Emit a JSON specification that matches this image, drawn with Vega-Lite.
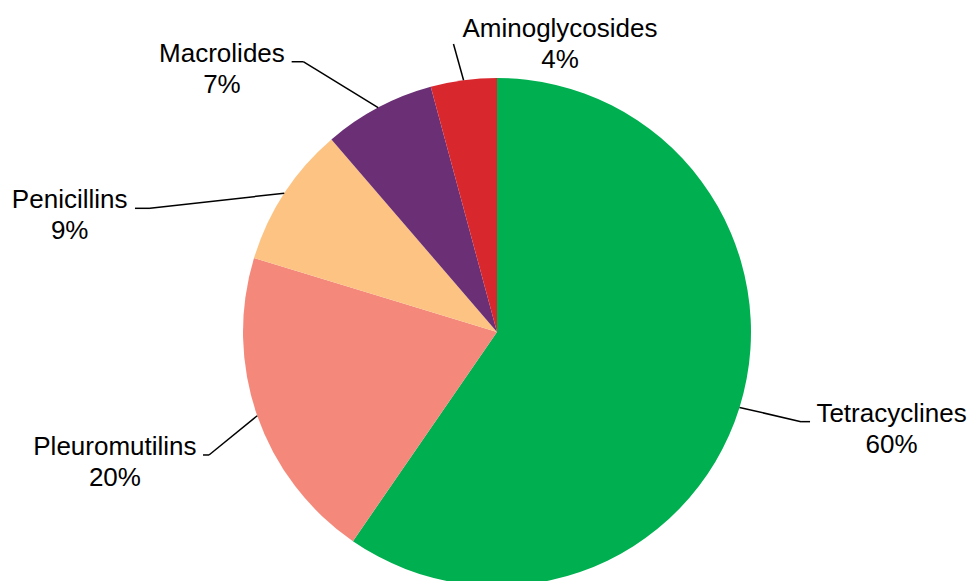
{
  "$schema": "https://vega.github.io/schema/vega-lite/v6.json",
  "width": 971,
  "height": 581,
  "autosize": "none",
  "padding": 0,
  "background": "white",
  "config": {"view": {"stroke": null}},
  "data": {
    "values": [
      {"category": "Tetracyclines", "value": 59.6},
      {"category": "Pleuromutilins", "value": 20.1},
      {"category": "Penicillins", "value": 9.0},
      {"category": "Macrolides", "value": 7.1},
      {"category": "Aminoglycosides", "value": 4.2}
    ]
  },
  "transform": [
    {"joinaggregate": [{"op": "sum", "field": "value", "as": "total"}]},
    {"stack": "value", "groupby": [], "sort": [{"field": "category", "order": "descending"}], "as": ["v0", "v1"]},
    {"calculate": "PI*(datum.v0+datum.v1)/datum.total", "as": "a"},
    {"calculate": "254*sin(datum.a)", "as": "px"},
    {"calculate": "-254*cos(datum.a)", "as": "py"},
    {"calculate": "datum.px + (datum.category=='Tetracyclines'?61.5:datum.category=='Pleuromutilins'?-48.2:datum.category=='Penicillins'?-134.3:datum.category=='Macrolides'?-74.9:-10.1)", "as": "ex"},
    {"calculate": "datum.py + (datum.category=='Tetracyclines'?14.2:datum.category=='Pleuromutilins'?39.2:datum.category=='Penicillins'?15.1:datum.category=='Macrolides'?-45.8:-36.2)", "as": "ey"},
    {"calculate": "datum.px + (datum.category=='Tetracyclines'?70.5:datum.category=='Pleuromutilins'?-54.2:datum.category=='Penicillins'?-149.3:datum.category=='Macrolides'?-86.5:-10.1)", "as": "fx"},
    {"calculate": "datum.ey", "as": "fy"},
    {"calculate": "datum.px + (datum.category=='Tetracyclines'?152:datum.category=='Pleuromutilins'?-142.3:datum.category=='Penicillins'?-214.6:datum.category=='Macrolides'?-156.2:96.4)", "as": "tx"},
    {"calculate": "datum.py + (datum.category=='Tetracyclines'?14.2:datum.category=='Pleuromutilins'?39.2:datum.category=='Penicillins'?15.1:datum.category=='Macrolides'?-45.8:-43.5)", "as": "ty"},
    {"calculate": "datum.category + '\\n' + format(datum.value/datum.total, '.0%')", "as": "label"}
  ],
  "layer": [
    {
      "mark": {"type": "arc", "radius": 254},
      "encoding": {
        "x": {"datum": 0, "type": "quantitative", "scale": {"domain": [-497, 474], "nice": false, "zero": false}, "axis": null},
        "y": {"datum": 0, "type": "quantitative", "scale": {"domain": [-332, 249], "range": [0, 581], "nice": false, "zero": false}, "axis": null},
        "theta": {"field": "v0", "type": "quantitative", "stack": null, "scale": {"domain": [0, 100]}},
        "theta2": {"field": "v1"},
        "color": {
          "field": "category",
          "type": "nominal",
          "legend": null,
          "scale": {
            "domain": ["Tetracyclines", "Pleuromutilins", "Penicillins", "Macrolides", "Aminoglycosides"],
            "range": ["#00B050", "#F4897B", "#FCC383", "#6B2F75", "#D9272E"]
          }
        }
      }
    },
    {
      "mark": {"type": "rule", "color": "black", "strokeWidth": 1.5},
      "encoding": {
        "x": {"field": "px", "type": "quantitative", "axis": null},
        "y": {"field": "py", "type": "quantitative", "axis": null},
        "x2": {"field": "ex"},
        "y2": {"field": "ey"}
      }
    },
    {
      "mark": {"type": "rule", "color": "black", "strokeWidth": 1.5},
      "encoding": {
        "x": {"field": "ex", "type": "quantitative", "axis": null},
        "y": {"field": "ey", "type": "quantitative", "axis": null},
        "x2": {"field": "fx"},
        "y2": {"field": "fy"}
      }
    },
    {
      "mark": {"type": "text", "align": "center", "baseline": "alphabetic", "lineBreak": "\n", "lineHeight": 31, "font": "Liberation Sans", "fontSize": 26, "color": "black"},
      "encoding": {
        "x": {"field": "tx", "type": "quantitative", "axis": null},
        "y": {"field": "ty", "type": "quantitative", "axis": null},
        "text": {"field": "label", "type": "nominal"}
      }
    }
  ]
}
